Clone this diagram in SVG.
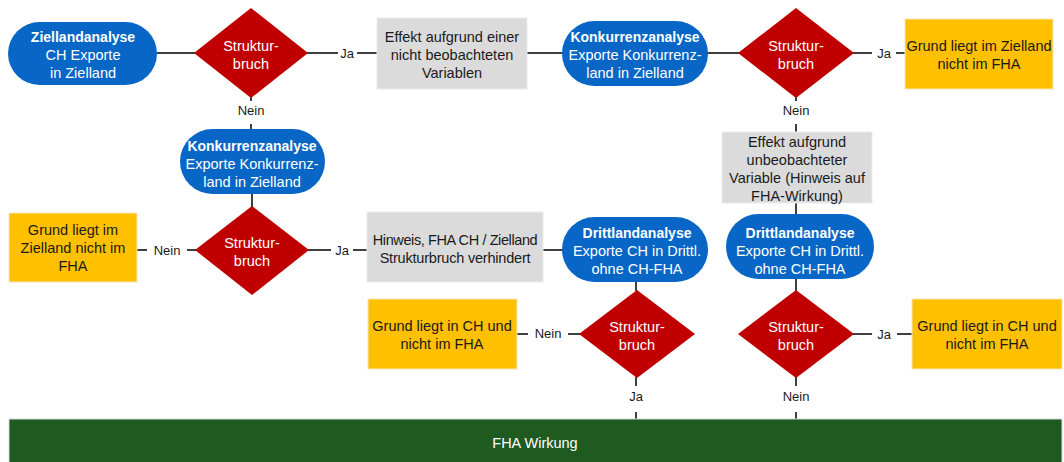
<svg xmlns="http://www.w3.org/2000/svg" width="1064" height="462" viewBox="0 0 1064 462">
<style>
text{font-family:"Liberation Sans",Arial,sans-serif;font-size:14.5px;text-anchor:middle}
.pill{fill:#0866C6}
.dia{fill:#C00000}
.gray{fill:#DBDBDB;stroke:#EBEBEB;stroke-width:1}
.yel{fill:#FFC000;stroke:#F2E6C0;stroke-width:1}
.w{fill:#FFFFFF}
.wb{fill:#FFFFFF;font-weight:bold;font-size:14px}
.k{fill:#1A1A1A}
.lbl{fill:#1A1A1A;font-size:13px}
.c line{stroke:#404040;stroke-width:2}
</style>
<rect width="1064" height="462" fill="#FFFFFF"/>
<g class="c" id="connectors">
<line x1="157" y1="53" x2="195" y2="53"/>
<line x1="307" y1="53" x2="338" y2="53"/>
<line x1="357" y1="53" x2="378" y2="53"/>
<line x1="527" y1="53" x2="563" y2="53"/>
<line x1="707" y1="53" x2="740" y2="53"/>
<line x1="853" y1="53" x2="872" y2="53"/>
<line x1="896" y1="53" x2="906" y2="53"/>
<line x1="251" y1="97" x2="251" y2="101"/>
<line x1="251" y1="124" x2="251" y2="130"/>
<line x1="252" y1="193" x2="252" y2="207"/>
<line x1="137" y1="250" x2="147" y2="250"/>
<line x1="187" y1="250" x2="197" y2="250"/>
<line x1="308" y1="250" x2="331" y2="250"/>
<line x1="353" y1="250" x2="368" y2="250"/>
<line x1="543" y1="250" x2="563" y2="250"/>
<line x1="796" y1="97" x2="796" y2="101"/>
<line x1="796" y1="124" x2="796" y2="133"/>
<line x1="796" y1="203" x2="796" y2="215"/>
<line x1="796" y1="279" x2="796" y2="291"/>
<line x1="636" y1="281" x2="636" y2="291"/>
<line x1="517" y1="334" x2="528" y2="334"/>
<line x1="568" y1="334" x2="580" y2="334"/>
<line x1="636" y1="377" x2="636" y2="386"/>
<line x1="636" y1="412" x2="636" y2="419"/>
<line x1="853" y1="334" x2="872" y2="334"/>
<line x1="897" y1="334" x2="913" y2="334"/>
<line x1="796" y1="377" x2="796" y2="386"/>
<line x1="796" y1="412" x2="796" y2="419"/>
<text class="lbl" x="347" y="58">Ja</text>
<text class="lbl" x="884" y="58">Ja</text>
<text class="lbl" x="251" y="115">Nein</text>
<text class="lbl" x="796" y="115">Nein</text>
<text class="lbl" x="167" y="255">Nein</text>
<text class="lbl" x="342" y="255">Ja</text>
<text class="lbl" x="548" y="338">Nein</text>
<text class="lbl" x="636" y="401">Ja</text>
<text class="lbl" x="884" y="339">Ja</text>
<text class="lbl" x="796" y="401">Nein</text>
</g>
<g id="n_ziel">
<rect class="pill" x="8" y="22" width="149" height="63" rx="31.5"/>
<text class="wb" x="83" y="42">Ziellandanalyse</text>
<text class="w" x="83" y="60">CH Exporte</text>
<text class="w" x="83" y="78">in Zielland</text>
</g>
<g id="d_1">
<polygon class="dia" points="251,8 308,53 251,98 194,53"/>
<text class="w" x="251" y="51">Struktur-</text>
<text class="w" x="251" y="69">bruch</text>
</g>
<g id="g_1">
<rect class="gray" x="377" y="18" width="150" height="71"/>
<text class="k" x="452" y="42">Effekt aufgrund einer</text>
<text class="k" x="452" y="60">nicht beobachteten</text>
<text class="k" x="452" y="78">Variablen</text>
</g>
<g id="n_konk1">
<rect class="pill" x="562" y="21" width="146" height="65" rx="32.5"/>
<text class="wb" x="635" y="42">Konkurrenzanalyse</text>
<text class="w" x="635" y="60">Exporte Konkurrenz-</text>
<text class="w" x="635" y="78">land in Zielland</text>
</g>
<g id="d_2">
<polygon class="dia" points="796,8 854,53 796,98 738,53"/>
<text class="w" x="796" y="51">Struktur-</text>
<text class="w" x="796" y="69">bruch</text>
</g>
<g id="y_1">
<rect class="yel" x="905" y="19" width="148" height="70"/>
<text class="k" x="979" y="51">Grund liegt im Zielland</text>
<text class="k" x="979" y="69">nicht im FHA</text>
</g>
<g id="n_konk2">
<rect class="pill" x="180" y="129" width="145" height="65" rx="32.5"/>
<text class="wb" x="252" y="151">Konkurrenzanalyse</text>
<text class="w" x="252" y="169">Exporte Konkurrenz-</text>
<text class="w" x="252" y="187">land in Zielland</text>
</g>
<g id="d_3">
<polygon class="dia" points="252,206 309,250 252,295 195,250"/>
<text class="w" x="252" y="248">Struktur-</text>
<text class="w" x="252" y="266">bruch</text>
</g>
<g id="y_2">
<rect class="yel" x="9" y="213" width="128" height="69"/>
<text class="k" x="73" y="235">Grund liegt im</text>
<text class="k" x="73" y="253">Zielland nicht im</text>
<text class="k" x="73" y="271">FHA</text>
</g>
<g id="g_2">
<rect class="gray" x="367" y="212" width="176" height="70"/>
<text class="k" x="455" y="245" letter-spacing="-0.4">Hinweis, FHA CH / Zielland</text>
<text class="k" x="455" y="263" letter-spacing="-0.2">Strukturbruch verhindert</text>
</g>
<g id="n_dritt1">
<rect class="pill" x="562" y="217" width="146" height="65" rx="32.5"/>
<text class="wb" x="637" y="238">Drittlandanalyse</text>
<text class="w" x="637" y="256">Exporte CH in Drittl.</text>
<text class="w" x="637" y="274">ohne CH-FHA</text>
</g>
<g id="g_3">
<rect class="gray" x="722" y="132" width="150" height="71"/>
<text class="k" x="797" y="147">Effekt aufgrund</text>
<text class="k" x="797" y="165">unbeobachteter</text>
<text class="k" x="797" y="183">Variable (Hinweis auf</text>
<text class="k" x="797" y="201">FHA-Wirkung)</text>
</g>
<g id="n_dritt2">
<rect class="pill" x="726" y="214" width="148" height="65" rx="32.5"/>
<text class="wb" x="800" y="238">Drittlandanalyse</text>
<text class="w" x="800" y="256">Exporte CH in Drittl.</text>
<text class="w" x="800" y="274">ohne CH-FHA</text>
</g>
<g id="d_5">
<polygon class="dia" points="637,290 695,334 637,378 579,334"/>
<text class="w" x="637" y="332">Struktur-</text>
<text class="w" x="637" y="350">bruch</text>
</g>
<g id="y_3">
<rect class="yel" x="368" y="299" width="149" height="70"/>
<text class="k" x="442" y="331">Grund liegt in CH und</text>
<text class="k" x="442" y="349">nicht im FHA</text>
</g>
<g id="d_6">
<polygon class="dia" points="796,290 854,334 796,378 738,334"/>
<text class="w" x="796" y="332">Struktur-</text>
<text class="w" x="796" y="350">bruch</text>
</g>
<g id="y_4">
<rect class="yel" x="912" y="299" width="150" height="70"/>
<text class="k" x="987" y="331">Grund liegt in CH und</text>
<text class="k" x="987" y="349">nicht im FHA</text>
</g>
<g id="n_fha">
<rect x="9" y="419" width="1053" height="44" fill="#1F5A21" stroke="#D8D8D8" stroke-width="1"/>
<text class="w" x="535" y="448">FHA Wirkung</text>
</g>
</svg>
